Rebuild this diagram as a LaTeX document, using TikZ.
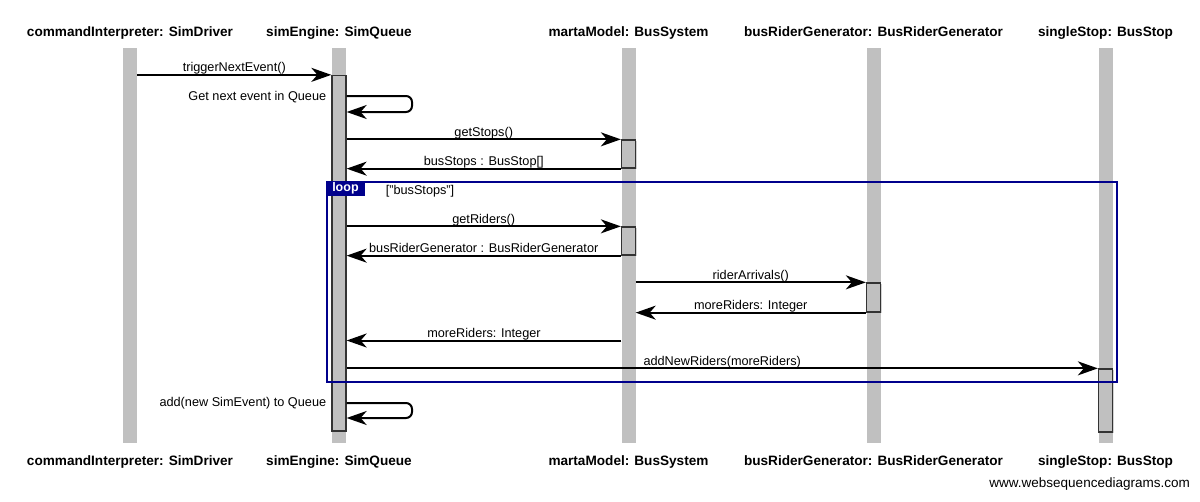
\documentclass[tikz,border=0pt]{standalone}
\usepackage{fontspec}
\setmainfont{Liberation Sans}
\usetikzlibrary{arrows.meta,shadows}
\definecolor{lifegray}{RGB}{192,192,192}
\definecolor{navyblue}{RGB}{0,0,140}
\definecolor{boxedge}{RGB}{51,51,51}
\begin{document}
\begin{tikzpicture}[x=1pt,y=-1pt,
  lifeline/.style={fill=lifegray, draw=none, inner sep=0, minimum width=14pt, minimum height=395pt},
  actbox/.style={fill=lifegray, draw=boxedge, line width=1.3pt, inner sep=0, minimum width=14pt,
    drop shadow={shadow xshift=1.2pt, shadow yshift=-1.2pt, opacity=0.35}},
  head/.style={font=\fontsize{13.6}{16}\selectfont\bfseries, inner sep=0, anchor=base},
  lbl/.style={font=\fontsize{12.7}{15}\selectfont, inner sep=0, anchor=base},
  selflbl/.style={font=\fontsize{12.7}{15}\selectfont, inner sep=0, anchor=base east},
  msg/.style={line width=2pt, -{Stealth[length=20pt,width=14pt,inset=6pt]}},
  loopframe/.style={draw=navyblue, line width=2.5pt, inner sep=0},
  looptab/.style={fill=navyblue, text=white, font=\fontsize{12.5}{15}\selectfont\bfseries, inner sep=0,
    minimum width=39pt, minimum height=15pt, anchor=north west},
]
\useasboundingbox (0,0) rectangle (1200,501);

% lifelines
\node[lifeline] (L1) at (130,245.5) {};
\node[lifeline] (L2) at (339,245.5) {};
\node[lifeline] (L3) at (628.5,245.5) {};
\node[lifeline] (L4) at (873.5,245.5) {};
\node[lifeline] (L5) at (1105.5,245.5) {};

% headers
\node[head] (h1) at (130,36) {commandInterpreter: SimDriver};
\node[head] (h2) at (339,36) {simEngine: SimQueue};
\node[head] (h3) at (628.5,36) {martaModel: BusSystem};
\node[head] (h4) at (873.5,36) {busRiderGenerator: BusRiderGenerator};
\node[head] (h5) at (1105.5,36) {singleStop: BusStop};
\node[head] (f1) at (130,465) {commandInterpreter: SimDriver};
\node[head] (f2) at (339,465) {simEngine: SimQueue};
\node[head] (f3) at (628.5,465) {martaModel: BusSystem};
\node[head] (f4) at (873.5,465) {busRiderGenerator: BusRiderGenerator};
\node[head] (f5) at (1105.5,465) {singleStop: BusStop};

% activation boxes
\node[actbox, minimum height=355.5pt] (A1) at (339,253.25) {};
\node[actbox, minimum height=28pt] (A2) at (628.5,154) {};
\node[actbox, minimum height=28pt] (A3) at (628.5,241) {};
\node[actbox, minimum height=29pt] (A4) at (873.5,297.5) {};
\node[actbox, minimum height=63pt] (A5) at (1105.5,400.5) {};

% loop frame
\node[loopframe, minimum width=790pt, minimum height=200pt] (loop) at (722,282) {};
\node[looptab] (looptag) at (loop.north west) {loop};
\node[lbl] (guard) at (420,194) {["busStops"]};

% helper y-levels
\coordinate (y1) at (0,96);
\coordinate (y2) at (0,112);
\coordinate (y3) at (0,340.5);
\coordinate (y4) at (0,403);
\coordinate (y5) at (0,418);
\coordinate (r1) at (412,96);
\coordinate (r2) at (412,112);
\coordinate (r3) at (412,403);
\coordinate (r4) at (412,418);

% messages
\draw[msg] (L1.east |- A1.north) -- node[lbl, midway, yshift=3pt] {triggerNextEvent()} (A1.north west);
\draw[msg, rounded corners=6pt] (A1.east |- y1) -- (r1) -- (r2) -- (A1.east |- y2);
\node[selflbl] (t1) at ([xshift=-5pt]A1.west |- 0,100.5) {Get next event in Queue};
\draw[msg] (A1.east |- A2.north) -- node[lbl, midway, yshift=3pt] {getStops()} (A2.north west);
\draw[msg] (A2.south west) -- node[lbl, midway, yshift=3pt] {busStops : BusStop[]} (A1.east |- A2.south);
\draw[msg] (A1.east |- A3.north) -- node[lbl, midway, yshift=3pt] {getRiders()} (A3.north west);
\draw[msg] (A3.south west) -- node[lbl, midway, yshift=3pt] {busRiderGenerator : BusRiderGenerator} (A1.east |- A3.south);
\draw[msg] (L3.east |- A4.north) -- node[lbl, midway, yshift=3pt] {riderArrivals()} (A4.north west);
\draw[msg] (A4.south west) -- node[lbl, midway, yshift=3pt] {moreRiders: Integer} (L3.east |- A4.south);
\draw[msg] (L3.west |- y3) -- node[lbl, midway, yshift=3pt] {moreRiders: Integer} (A1.east |- y3);
\draw[msg] (A1.east |- A5.north) -- node[lbl, midway, yshift=3pt] {addNewRiders(moreRiders)} (A5.north west);
\draw[msg, rounded corners=6pt] (A1.east |- y4) -- (r3) -- (r4) -- (A1.east |- y5);
\node[selflbl] (t2) at ([xshift=-5pt]A1.west |- 0,406.5) {add(new SimEvent) to Queue};

% watermark
\node[font=\fontsize{13.5}{16}\selectfont, inner sep=0, anchor=base east] (wm) at (1190,487) {www.websequencediagrams.com};
\end{tikzpicture}
\end{document}
